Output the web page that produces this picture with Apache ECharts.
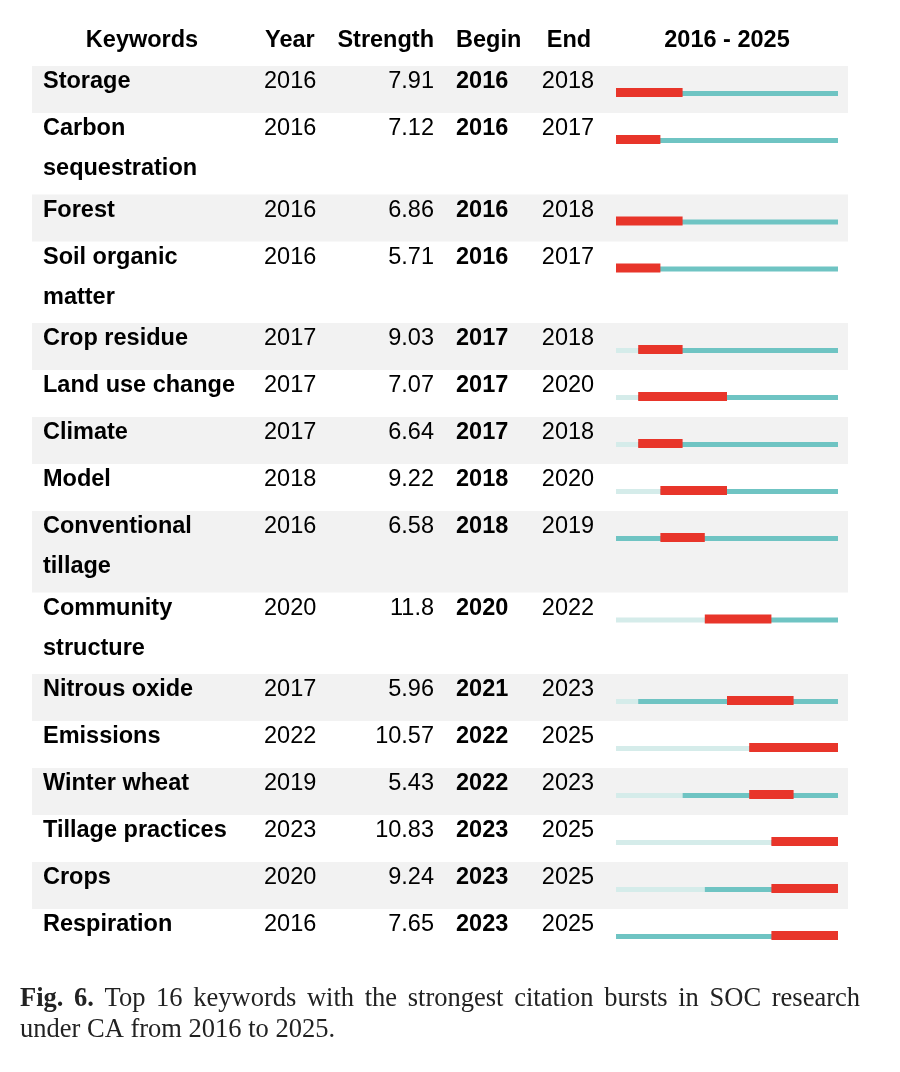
<!DOCTYPE html>
<html>
<head>
<meta charset="utf-8">
<title>Keyword citation bursts</title>
<script src="https://cdn.jsdelivr.net/npm/echarts@6/dist/echarts.min.js"></script>
<style>
  html, body { margin: 0; padding: 0; background: #fff; }
  #main { width: 900px; height: 1072px; }
</style>
</head>
<body>
<div id="main"></div>
<script>
// data
var keywords = [
    ['Storage'],
    ['Carbon', 'sequestration'],
    ['Forest'],
    ['Soil organic', 'matter'],
    ['Crop residue'],
    ['Land use change'],
    ['Climate'],
    ['Model'],
    ['Conventional', 'tillage'],
    ['Community', 'structure'],
    ['Nitrous oxide'],
    ['Emissions'],
    ['Winter wheat'],
    ['Tillage practices'],
    ['Crops'],
    ['Respiration']
];
var years     = [2016, 2016, 2016, 2016, 2017, 2017, 2017, 2018, 2016, 2020, 2017, 2022, 2019, 2023, 2020, 2016];
var strengths = ['7.91', '7.12', '6.86', '5.71', '9.03', '7.07', '6.64', '9.22', '6.58', '11.8', '5.96', '10.57', '5.43', '10.83', '9.24', '7.65'];
var begins    = [2016, 2016, 2016, 2016, 2017, 2017, 2017, 2018, 2018, 2020, 2021, 2022, 2022, 2023, 2023, 2023];
var ends      = [2018, 2017, 2018, 2017, 2018, 2020, 2018, 2020, 2019, 2022, 2023, 2025, 2023, 2025, 2025, 2025];
var headers   = ['Keywords', 'Year', 'Strength', 'Begin', 'End', '2016 - 2025'];
var firstYear = 2016, lastYear = 2025;
var captionBold = ['Fig.', '6.'];
var captionLine1 = 'Top 16 keywords with the strongest citation bursts in SOC research';
var captionLine2 = 'under CA from 2016 to 2025.';

var SANS = '"Liberation Sans", Arial, sans-serif';
var SERIF = '"Liberation Serif", "Times New Roman", serif';
var FS = 23.5;
var RED = '#e8352a', TEAL = '#6fc4c3', PALE = '#d5ecea', BAND = '#f2f2f2';

// row layout: one line = 47px, every extra line adds 34.5px
var rowTops = [], rowHeights = [], acc = 0;
for (var i = 0; i < keywords.length; i++) {
    var h = 47 + (keywords[i].length - 1) * 34.5;
    rowTops.push(acc);
    rowHeights.push(h);
    acc += h;
}
var totalH = acc;

var chart = echarts.init(document.getElementById('main'));

function txt(s, x, y, align, bold) {
    return {
        type: 'text',
        style: {
            text: s, x: x, y: y,
            font: (bold ? 'bold ' : '') + FS + 'px ' + SANS,
            fill: '#000', align: align, verticalAlign: 'middle'
        }
    };
}

function renderRow(params, api) {
    var idx = api.value(0);
    var top = api.value(1);
    var hh = api.value(2);
    var p0 = api.coord([firstYear, top]);
    var p1 = api.coord([firstYear, top + hh]);
    var y = p0[1];
    var ty = y + 16;
    var kids = [];
    if (idx % 2 === 0) {
        kids.push({ type: 'rect', shape: { x: 32, y: y, width: 816, height: p1[1] - y }, style: { fill: BAND } });
    }
    var lines = keywords[idx];
    for (var k = 0; k < lines.length; k++) {
        kids.push(txt(lines[k], 43, ty + k * 40, 'left', true));
    }
    kids.push(txt(String(years[idx]), 264, ty, 'left', false));
    kids.push(txt(strengths[idx], 434, ty, 'right', false));
    kids.push(txt(String(begins[idx]), 456, ty, 'left', true));
    kids.push(txt(String(ends[idx]), 568, ty, 'center', false));

    // timeline bars
    var xs = api.coord([firstYear, top])[0];
    var xy = api.coord([years[idx], top])[0];
    var xe = api.coord([lastYear + 1, top])[0];
    var xb = api.coord([begins[idx], top])[0];
    var xf = api.coord([ends[idx] + 1, top])[0];
    if (xy > xs) {
        kids.push({ type: 'rect', shape: { x: xs, y: y + 25, width: xy - xs, height: 5 }, style: { fill: PALE } });
    }
    kids.push({ type: 'rect', shape: { x: xy, y: y + 25, width: xe - xy, height: 5 }, style: { fill: TEAL } });
    kids.push({ type: 'rect', shape: { x: xb, y: y + 22, width: xf - xb, height: 9 }, style: { fill: RED } });
    return { type: 'group', children: kids };
}

var rowData = [];
for (var j = 0; j < keywords.length; j++) {
    rowData.push([j, rowTops[j], rowHeights[j]]);
}

// caption: first line justified between 20 and 860
var ctx = document.createElement('canvas').getContext('2d');
var capFS = 26.5;
var capWords = [];
captionBold.forEach(function (w) { capWords.push({ t: w, b: true }); });
captionLine1.split(' ').forEach(function (w) { capWords.push({ t: w, b: false }); });
var sumW = 0;
capWords.forEach(function (w) {
    ctx.font = (w.b ? 'bold ' : '') + capFS + 'px ' + SERIF;
    w.w = ctx.measureText(w.t).width;
    sumW += w.w;
});
var gap = (840 - sumW) / (capWords.length - 1);
var graphics = [];
var cx = 20;
capWords.forEach(function (w) {
    graphics.push({
        type: 'text', x: cx, y: 999,
        style: { text: w.t, font: (w.b ? 'bold ' : '') + capFS + 'px ' + SERIF, fill: '#222', verticalAlign: 'middle' }
    });
    cx += w.w + gap;
});
graphics.push({
    type: 'text', x: 20, y: 1030,
    style: { text: captionLine2, font: capFS + 'px ' + SERIF, fill: '#222', verticalAlign: 'middle' }
});

// header row
var headX = [142, 265, 434, 456, 569, 727];
var headAlign = ['center', 'left', 'right', 'left', 'center', 'center'];
headers.forEach(function (hd, n) {
    graphics.push({
        type: 'text', x: headX[n], y: 41,
        style: { text: hd, font: 'bold ' + FS + 'px ' + SANS, fill: '#000', align: headAlign[n], verticalAlign: 'middle' }
    });
});

chart.setOption({
    animation: false,
    grid: { left: 616, right: 62, top: 66, height: totalH },
    xAxis: { type: 'value', min: firstYear, max: lastYear + 1, show: false },
    yAxis: { type: 'value', min: 0, max: totalH, inverse: true, show: false },
    graphic: graphics,
    series: [{
        type: 'custom',
        renderItem: renderRow,
        data: rowData,
        encode: { x: -1, y: 1 },
        clip: false
    }]
});
</script>
</body>
</html>
